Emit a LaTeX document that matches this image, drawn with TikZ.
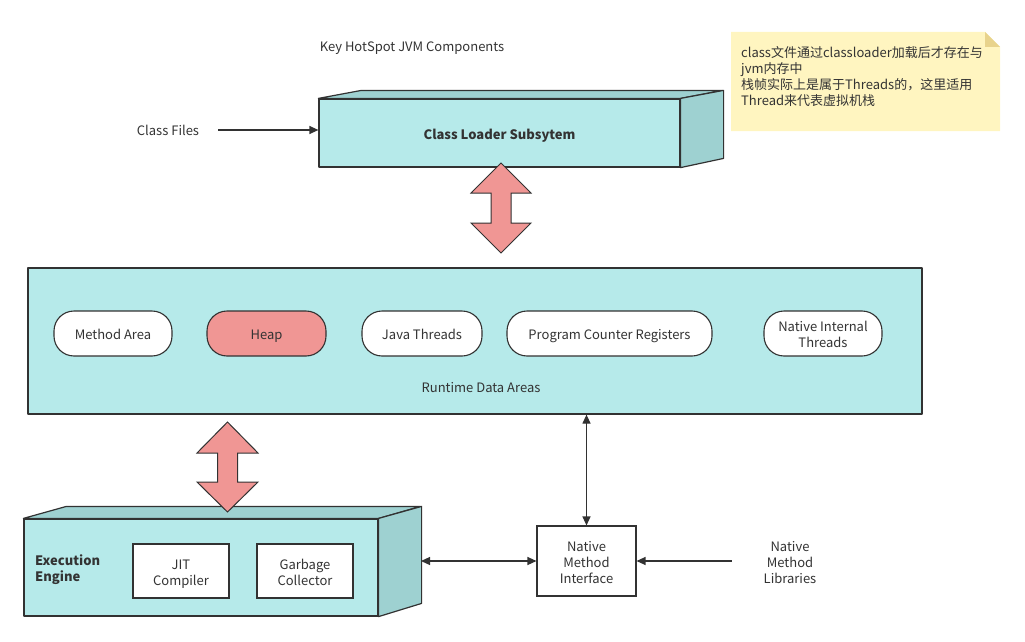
\documentclass[tikz,border=0pt]{standalone}
\usepackage{fontspec}
\setmainfont{Noto Sans CJK SC}
\usetikzlibrary{arrows.meta}
\definecolor{ink}{HTML}{323232}
\definecolor{txt}{HTML}{333333}
\definecolor{front}{HTML}{B6EAEA}
\definecolor{sideface}{HTML}{9ED1D1}
\definecolor{salmon}{HTML}{F09694}
\definecolor{notebg}{HTML}{FFF5C0}
\definecolor{notefold}{HTML}{E8D38C}
% fixed line height (15pt above, 3.5pt below the baseline) so labels sit alike in their boxes
\newcommand\lnstrut{\rule[-3.5pt]{0pt}{18.5pt}}
% several lines of text, 16pt apart, centred on the node
\newcommand\lblstack[2][c]{\raisebox{-3.2pt}[\height][\depth]{\begin{tabular}{@{}#1@{}}#2\end{tabular}}}
\tikzset{
  every node/.append style={execute at begin node=\lnstrut, execute at end node=\lnstrut},
  face/.style={draw=ink, line width=1.2pt, line join=round},
  box3d/.style={face, fill=front, inner sep=0pt},
  pill/.style={draw=ink, line width=1.1pt, fill=white, rounded corners=20pt,
    minimum height=45pt, inner sep=0pt},
  plainbox/.style={draw=ink, line width=1.1pt, fill=white, inner sep=0pt},
  conn/.style={draw=ink, line width=1.2pt, -{Triangle[length=9pt,width=8pt]}},
  biconn/.style={draw=ink, line width=1.2pt, {Triangle[length=9pt,width=8pt]}-{Triangle[length=9pt,width=8pt]}},
  fat/.style={draw=ink, line width=1pt, fill=salmon, line join=miter},
  lbl/.style={inner sep=0pt}
}
\begin{document}
\begin{tikzpicture}[x=1pt, y=-1pt, font=\fontsize{13}{16}\selectfont, text=txt]
\useasboundingbox (0,0) rectangle (1025,642);

% title
\node[lbl] (title) at (412,46) {Key HotSpot JVM Components};

% sticky note with folded corner
\fill[notebg] (731,32) -- (985,32) -- (1000,47) -- (1000,131) -- (731,131) -- cycle;
\fill[notefold] (985,32) -- (1000,47) -- (985,47) -- cycle;
\node[lbl, anchor=base west] (note) at (741,57.5)
  {\begin{tabular}[t]{@{}l@{}}class文件通过classloader加载后才存在与\\jvm内存中\\栈帧实际上是属于Threads的，这里适用\\Thread来代表虚拟机栈\end{tabular}};

% class loader subsystem (3D block)
\node[box3d, minimum width=361pt, minimum height=68pt, font=\fontsize{13}{16}\selectfont\bfseries] (cls) at (499.5,133) {\raisebox{-1.2pt}{Class Loader Subsytem}};
\filldraw[face, fill=sideface] (cls.north west) -- ++(43,-8) -- ++(361,0) -- (cls.north east) -- cycle;
\filldraw[face, fill=sideface] (cls.north east) -- ++(43,-8) -- ++(0,68) -- (cls.south east) -- cycle;

\node[lbl] (files) at (168,129.5) {Class Files};
\draw[conn] ([shift={(19,0.5)}]files.east) -- (cls.west |- 0,130);

% runtime data areas
\node[face, fill=front, minimum width=894pt, minimum height=146pt, inner sep=0pt] (rt) at (475,341) {};
\node[pill, minimum width=118pt] (ma) at (113,333.5) {Method Area};
\node[pill, minimum width=119pt, fill=salmon] (heap) at (266.5,333.5) {Heap};
\node[pill, minimum width=120pt] (jt) at (422,333.5) {Java Threads};
\node[pill, minimum width=205pt] (pcr) at (609.5,333.5) {Program Counter Registers};
\node[pill, minimum width=118pt] (nit) at (823,333.5) {\lblstack{Native Internal\\Threads}};
\node[lbl] (rtl) at (481,387) {Runtime Data Areas};

% execution engine (3D block)
\node[box3d, minimum width=354pt, minimum height=97pt] (ee) at (201,567.5) {};
\filldraw[face, fill=sideface] (ee.north west) -- ++(43,-12) -- ++(354,0) -- (ee.north east) -- cycle;
\filldraw[face, fill=sideface] (ee.north east) -- ++(43,-12) -- ++(0,97) -- (ee.south east) -- cycle;
\node[lbl, anchor=west, font=\fontsize{13}{16}\selectfont\bfseries] (eel) at (35,567) {\lblstack[l]{Execution\\Engine}};
\node[plainbox, minimum width=96pt, minimum height=54pt] (jit) at (181,571) {\lblstack{JIT\\Compiler}};
\node[plainbox, minimum width=96pt, minimum height=54pt] (gc) at (305,571) {\lblstack{Garbage\\Collector}};
\coordinate (eeside) at (421,561);

% native method interface and libraries
\node[plainbox, minimum width=99pt, minimum height=70pt] (nmi) at (586.5,561) {\lblstack{Native\\Method\\Interface}};
\node[lbl] (nml) at (790,561) {\lblstack{Native\\Method\\Libraries}};

\draw[biconn] (rt.south -| nmi.north) -- (nmi.north);
\draw[biconn] (eeside) -- (nmi.west);
\draw[conn] ([xshift=-32pt]nml.west |- nmi.east) -- (nmi.east);

% wide two-way arrows between the blocks
\filldraw[fat] (501,163) -- (531,193) -- (511,193) -- (511,223) -- (531,223) -- (501,253)
  -- (471,223) -- (491,223) -- (491,193) -- (471,193) -- cycle;
\filldraw[fat] (227.5,422) -- (258,453) -- (237.5,453) -- (237.5,482) -- (258,482) -- (227.5,512)
  -- (197,482) -- (217.5,482) -- (217.5,453) -- (197,453) -- cycle;
\end{tikzpicture}
\end{document}
